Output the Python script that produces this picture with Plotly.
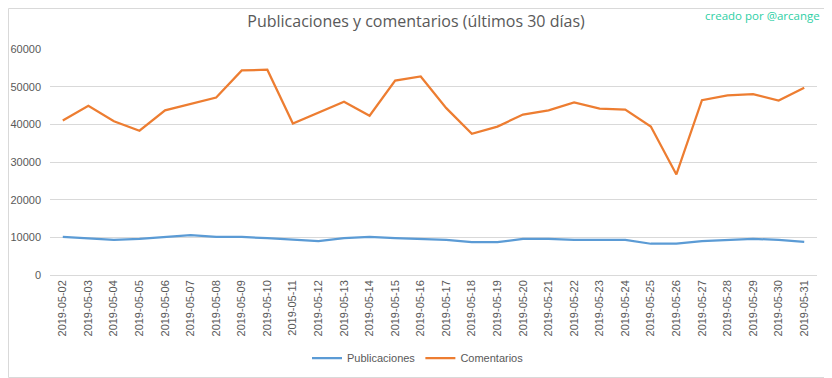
import plotly.graph_objects as go

dates = ["2019-05-%02d" % d for d in range(2, 32)]
publicaciones = [10100, 9800, 9300, 9600, 10100, 10600, 10100, 10100, 9800, 9300,
                 9000, 9800, 10100, 9800, 9600, 9300, 8700, 8700, 9600, 9600,
                 9300, 9300, 9300, 8300, 8300, 9000, 9300, 9600, 9300, 8800]
comentarios = [41000, 44900, 40800, 38300, 43700, 45500, 47100, 54300, 54500, 40200,
               43100, 46000, 42300, 51600, 52700, 44300, 37500, 39400, 42600, 43700,
               45800, 44200, 43900, 39400, 26700, 46400, 47700, 48000, 46300, 49700]
y_ticks = [0, 10000, 20000, 30000, 40000, 50000, 60000]

# page has an 8px body offset; the figure is sized so it ends at the window edge
OFF = 8
W, H = 832 - OFF, 378 - OFF
ml, mr, mt, mb = 50 - OFF, 15, 49 - OFF, 103
pw, ph = W - ml - mr, H - mt - mb

fig = go.Figure()
fig.add_trace(go.Scatter(x=dates, y=publicaciones, mode="lines", name="Publicaciones",
                         line=dict(color="#5B9BD5", width=2.25)))
fig.add_trace(go.Scatter(x=dates, y=comentarios, mode="lines", name="Comentarios",
                         line=dict(color="#ED7D31", width=2.25)))

fig.update_layout(
    width=W, height=H,
    margin=dict(l=ml, r=mr, t=mt, b=mb, autoexpand=False),
    paper_bgcolor="white", plot_bgcolor="white",
    font=dict(family="Liberation Sans, sans-serif", color="#595959", size=11),
    title=dict(text="Publicaciones y comentarios (últimos 30 días)",
               x=(416 - OFF) / W, xanchor="center", xref="container",
               y=1 - (21 - OFF) / H, yanchor="middle",
               font=dict(family="Open Sans, sans-serif", size=16, color="#595959")),
    showlegend=True,
    legend=dict(orientation="h", x=(418 - OFF) / W, xanchor="center", xref="container",
                yref="container", y=1 - (358 - OFF) / H, yanchor="middle",
                font=dict(size=11, color="#595959"), itemwidth=30, traceorder="normal"),
    xaxis=dict(type="category", range=[-0.5, len(dates) - 0.5], tickangle=-90,
               showgrid=False, showline=False, ticks="", zeroline=False, automargin=False,
               ticklabelstandoff=2, tickfont=dict(size=11, color="#595959")),
    yaxis=dict(range=[0, 60000], tickvals=y_ticks, ticktext=[str(v) for v in y_ticks],
               showgrid=True, gridcolor="#D9D9D9", gridwidth=1, zeroline=True,
               zerolinecolor="#D9D9D9", zerolinewidth=1, showline=False, ticks="",
               automargin=False, ticklabelstandoff=8, tickfont=dict(size=11, color="#595959")),
    annotations=[dict(text="creado por @arcange", xref="paper", yref="paper",
                      x=(822 - 50) / pw, y=1 + (mt - (15 - OFF)) / ph, xanchor="right", yanchor="middle",
                      showarrow=False, font=dict(family="Open Sans, sans-serif", size=11.5, color="#2ECFA5"))],
    shapes=[dict(type="rect", xref="paper", yref="paper",
                 x0=-(ml - 0.5) / pw, x1=1 + (mr - 0.5) / pw,
                 y0=-(mb - 0.5) / ph, y1=1 + (mt - 0.5) / ph,
                 line=dict(color="#D9D9D9", width=1), layer="below")],
)

fig.write_html("out.html")
